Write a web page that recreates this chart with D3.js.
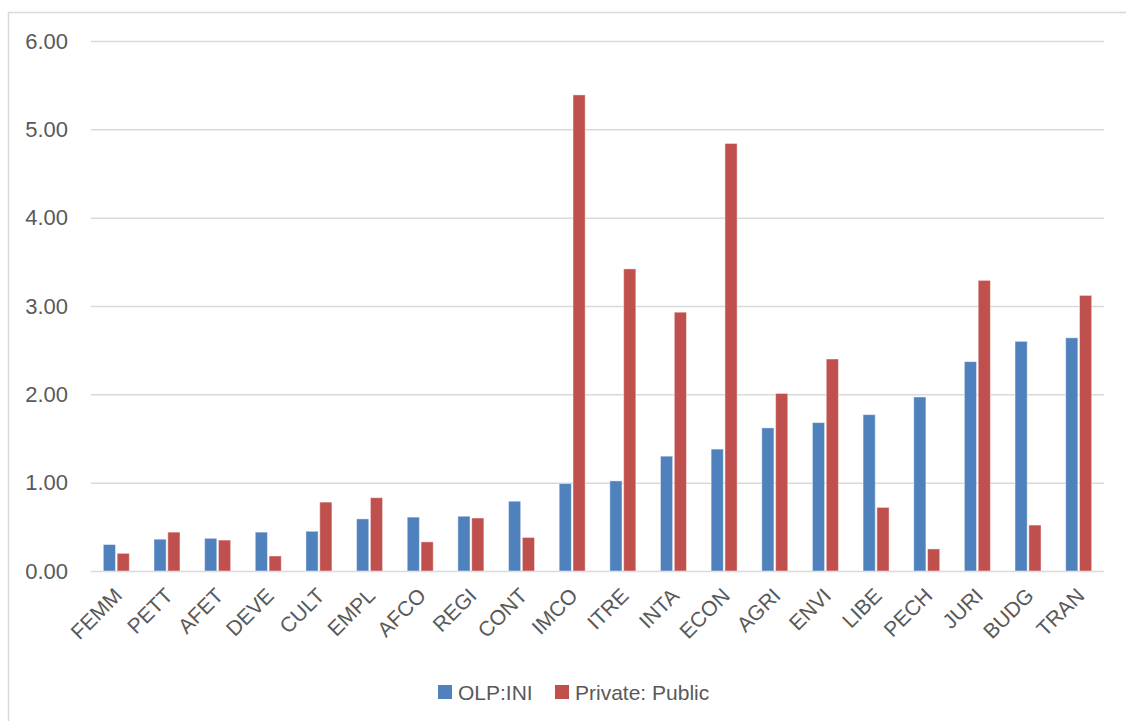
<!DOCTYPE html>
<html>
<head>
<meta charset="utf-8">
<script src="https://cdn.jsdelivr.net/npm/d3@7"></script>
<style>
  body { margin: 0; background: #fff; }
  svg text { font-family: "Liberation Sans", Arial, sans-serif; fill: #595959; }
</style>
</head>
<body>
<div id="chart"></div>
<script>
var committees = ['FEMM','PETT','AFET','DEVE','CULT','EMPL','AFCO','REGI','CONT','IMCO',
                  'ITRE','INTA','ECON','AGRI','ENVI','LIBE','PECH','JURI','BUDG','TRAN'];
var olpIni = [0.30, 0.36, 0.37, 0.44, 0.45, 0.59, 0.61, 0.62, 0.79, 0.99,
              1.02, 1.30, 1.38, 1.62, 1.68, 1.77, 1.97, 2.37, 2.60, 2.64];
var privatePublic = [0.20, 0.44, 0.35, 0.17, 0.78, 0.83, 0.33, 0.60, 0.38, 5.39,
                     3.42, 2.93, 4.84, 2.01, 2.40, 0.72, 0.25, 3.29, 0.52, 3.12];
var seriesNames = ['OLP:INI', 'Private: Public'];
var seriesColors = ['#4F81BD', '#C0504D'];
var yTicks = [0, 1, 2, 3, 4, 5, 6];

var width = 1126, height = 721;
var margin = { top: 41, right: 22, bottom: 150, left: 91 };

var svg = d3.select("#chart")
  .append("svg")
  .attr("width", width)
  .attr("height", height);

// outer chart frame (runs off the right/bottom edge like the screenshot)
svg.append("rect")
  .attr("x", 8.5)
  .attr("y", 12.5)
  .attr("width", 1300)
  .attr("height", 900)
  .attr("fill", "none")
  .attr("stroke", "#d9d9d9")
  .attr("stroke-width", 1.5);

var yScale = d3.scaleLinear()
  .domain([0, 6])
  .range([height - margin.bottom, margin.top]);

var xScale = d3.scaleBand()
  .domain(committees)
  .range([margin.left, width - margin.right]);

var groupW = 26;
var xSeries = d3.scaleBand()
  .domain(seriesNames)
  .range([0, groupW])
  .paddingInner(0.12);

// grid lines
var yGrid = d3.axisLeft(yScale)
  .tickValues(yTicks)
  .tickSize(-(width - margin.left - margin.right))
  .tickFormat("");
svg.append("g")
  .attr("class", "grid")
  .attr("transform", "translate(" + margin.left + ",0)")
  .call(yGrid)
  .call(function(g) {
    g.select(".domain").remove();
    g.selectAll("line").attr("stroke", "#d9d9d9").attr("stroke-width", 1.5);
  });

// y labels
var yAxis = d3.axisLeft(yScale)
  .tickValues(yTicks)
  .tickSize(0)
  .tickPadding(23)
  .tickFormat(d3.format(".2f"));
svg.append("g")
  .attr("class", "y axis")
  .attr("transform", "translate(" + margin.left + ",0)")
  .call(yAxis)
  .call(function(g) {
    g.select(".domain").remove();
    g.selectAll("text").attr("font-size", 22);
  });

// bars
var groups = svg.selectAll(".cat")
  .data(committees)
  .enter()
  .append("g")
  .attr("class", "cat")
  .attr("transform", function(d) {
    return "translate(" + (xScale(d) + (xScale.bandwidth() - groupW) / 2) + ",0)";
  });

groups.selectAll("rect")
  .data(function(d, i) {
    return [
      { s: seriesNames[0], v: olpIni[i], c: seriesColors[0] },
      { s: seriesNames[1], v: privatePublic[i], c: seriesColors[1] }
    ];
  })
  .enter()
  .append("rect")
  .attr("x", function(d) { return xSeries(d.s); })
  .attr("y", function(d) { return yScale(d.v); })
  .attr("width", xSeries.bandwidth())
  .attr("height", function(d) { return yScale(0) - yScale(d.v); })
  .attr("fill", function(d) { return d.c; })
  .attr("stroke", "#ffffff")
  .attr("stroke-opacity", 0.45)
  .attr("stroke-width", 1);

// x labels, rotated
var xAxis = d3.axisBottom(xScale)
  .tickSize(0)
  .tickPadding(0);
svg.append("g")
  .attr("class", "x axis")
  .attr("transform", "translate(0," + yScale(0) + ")")
  .call(xAxis)
  .call(function(g) {
    g.select(".domain").remove();
    g.selectAll("text")
      .attr("font-size", 21)
      .attr("text-anchor", "end")
      .attr("dy", null)
      .attr("y", 0)
      .attr("transform", "translate(7,26) rotate(-45)");
  });

// legend
var legendX = [438, 555];
var legend = svg.selectAll(".legend")
  .data(seriesNames)
  .enter()
  .append("g")
  .attr("class", "legend")
  .attr("transform", function(d, i) { return "translate(" + legendX[i] + ",685)"; });
legend.append("rect")
  .attr("width", 14)
  .attr("height", 14)
  .attr("fill", function(d, i) { return seriesColors[i]; });
legend.append("text")
  .attr("x", 20)
  .attr("y", 15)
  .attr("font-size", 21)
  .text(function(d) { return d; });
</script>
</body>
</html>
